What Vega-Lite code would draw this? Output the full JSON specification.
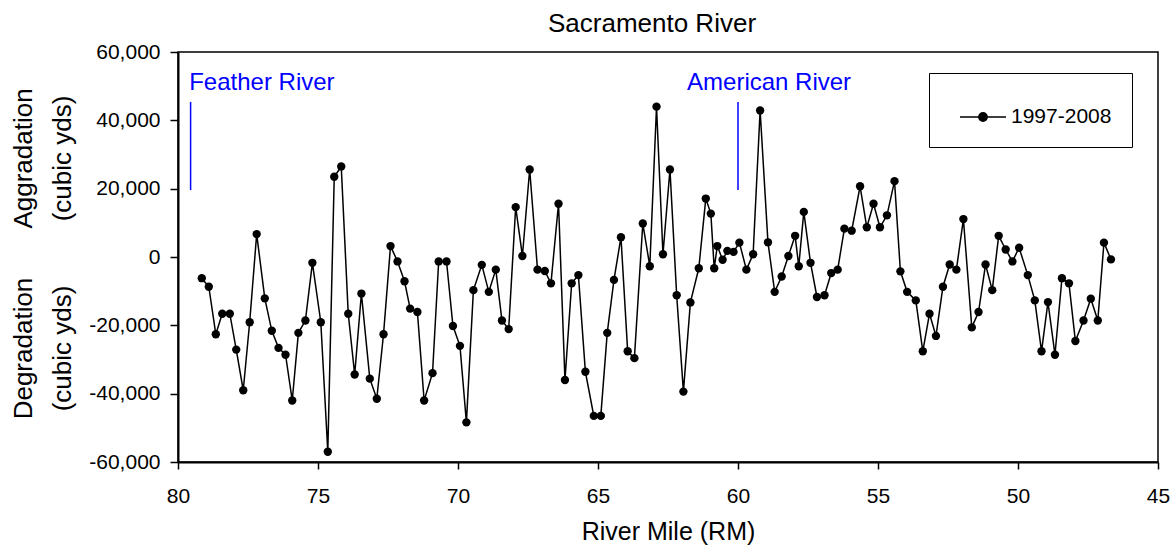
{
 "$schema": "https://vega.github.io/schema/vega-lite/v6.json",
 "width": 980,
 "height": 410,
 "autosize": {"type": "none"},
 "padding": {"left": 178, "top": 52, "right": 18, "bottom": 83},
 "background": "white",
 "title": {"text": "Sacramento River", "fontSize": 26, "font": "Liberation Sans", "fontWeight": "normal", "color": "#000", "dx": -16, "offset": -17, "baseline": "alphabetic"},
 "config": {
  "view": {"stroke": "#000", "strokeWidth": 1.5},
  "font": "Liberation Sans",
  "axis": {"grid": false, "domainColor": "#000", "domainWidth": 2, "tickColor": "#000", "tickWidth": 1.5, "labelColor": "#000", "titleColor": "#000", "labelFont": "Liberation Sans", "titleFont": "Liberation Sans", "titleFontWeight": "normal", "labelFlush": false, "labelOverlap": false, "labelBound": false}
 },
 "datasets": {
  "sed": [
   {"rm": 79.15, "vol": -6200}, {"rm": 78.90, "vol": -8700}, {"rm": 78.65, "vol": -22600}, {"rm": 78.42, "vol": -16600},
   {"rm": 78.15, "vol": -16600}, {"rm": 77.92, "vol": -27100}, {"rm": 77.67, "vol": -39000}, {"rm": 77.44, "vol": -19100},
   {"rm": 77.19, "vol": 6700}, {"rm": 76.90, "vol": -12100}, {"rm": 76.65, "vol": -21600}, {"rm": 76.41, "vol": -26600},
   {"rm": 76.16, "vol": -28600}, {"rm": 75.92, "vol": -42000}, {"rm": 75.70, "vol": -22200}, {"rm": 75.45, "vol": -18600},
   {"rm": 75.20, "vol": -1700}, {"rm": 74.90, "vol": -19100}, {"rm": 74.65, "vol": -57000}, {"rm": 74.42, "vol": 23500},
   {"rm": 74.17, "vol": 26500}, {"rm": 73.92, "vol": -16600}, {"rm": 73.69, "vol": -34400}, {"rm": 73.45, "vol": -10700},
   {"rm": 73.15, "vol": -35600}, {"rm": 72.90, "vol": -41500}, {"rm": 72.66, "vol": -22600}, {"rm": 72.41, "vol": 3200},
   {"rm": 72.16, "vol": -1300}, {"rm": 71.91, "vol": -7100}, {"rm": 71.71, "vol": -15100}, {"rm": 71.45, "vol": -16100},
   {"rm": 71.21, "vol": -42000}, {"rm": 70.91, "vol": -34000}, {"rm": 70.69, "vol": -1300}, {"rm": 70.41, "vol": -1300},
   {"rm": 70.18, "vol": -20200}, {"rm": 69.93, "vol": -26000}, {"rm": 69.70, "vol": -48400}, {"rm": 69.45, "vol": -9700},
   {"rm": 69.15, "vol": -2300}, {"rm": 68.90, "vol": -10200}, {"rm": 68.65, "vol": -3700}, {"rm": 68.43, "vol": -18600},
   {"rm": 68.19, "vol": -21100}, {"rm": 67.94, "vol": 14600}, {"rm": 67.70, "vol": 300}, {"rm": 67.44, "vol": 25600},
   {"rm": 67.16, "vol": -3700}, {"rm": 66.90, "vol": -4100}, {"rm": 66.68, "vol": -7700}, {"rm": 66.41, "vol": 15600},
   {"rm": 66.18, "vol": -36000}, {"rm": 65.94, "vol": -7700}, {"rm": 65.70, "vol": -5300}, {"rm": 65.45, "vol": -33600},
   {"rm": 65.15, "vol": -46500}, {"rm": 64.90, "vol": -46500}, {"rm": 64.67, "vol": -22200}, {"rm": 64.43, "vol": -6700},
   {"rm": 64.18, "vol": 5800}, {"rm": 63.94, "vol": -27600}, {"rm": 63.70, "vol": -29600}, {"rm": 63.40, "vol": 9800},
   {"rm": 63.15, "vol": -2700}, {"rm": 62.91, "vol": 44000}, {"rm": 62.68, "vol": 800}, {"rm": 62.43, "vol": 25600},
   {"rm": 62.19, "vol": -11200}, {"rm": 61.95, "vol": -39400}, {"rm": 61.70, "vol": -13300}, {"rm": 61.40, "vol": -3300},
   {"rm": 61.15, "vol": 17100}, {"rm": 60.97, "vol": 12700}, {"rm": 60.85, "vol": -3300}, {"rm": 60.74, "vol": 3200},
   {"rm": 60.55, "vol": -800}, {"rm": 60.38, "vol": 1800}, {"rm": 60.16, "vol": 1500}, {"rm": 59.95, "vol": 4200},
   {"rm": 59.70, "vol": -3700}, {"rm": 59.46, "vol": 800}, {"rm": 59.21, "vol": 42900}, {"rm": 58.93, "vol": 4300},
   {"rm": 58.69, "vol": -10200}, {"rm": 58.44, "vol": -5700}, {"rm": 58.20, "vol": 300}, {"rm": 57.96, "vol": 6200},
   {"rm": 57.83, "vol": -2700}, {"rm": 57.65, "vol": 13200}, {"rm": 57.41, "vol": -1700}, {"rm": 57.18, "vol": -11700},
   {"rm": 56.91, "vol": -11200}, {"rm": 56.67, "vol": -4700}, {"rm": 56.44, "vol": -3700}, {"rm": 56.20, "vol": 8300},
   {"rm": 55.94, "vol": 7700}, {"rm": 55.64, "vol": 20700}, {"rm": 55.40, "vol": 8700}, {"rm": 55.16, "vol": 15600},
   {"rm": 54.93, "vol": 8700}, {"rm": 54.68, "vol": 12200}, {"rm": 54.41, "vol": 22200}, {"rm": 54.20, "vol": -4200},
   {"rm": 53.96, "vol": -10200}, {"rm": 53.65, "vol": -12700}, {"rm": 53.40, "vol": -27600}, {"rm": 53.16, "vol": -16600},
   {"rm": 52.93, "vol": -23100}, {"rm": 52.68, "vol": -8700}, {"rm": 52.44, "vol": -2200}, {"rm": 52.20, "vol": -3700},
   {"rm": 51.95, "vol": 11100}, {"rm": 51.65, "vol": -20600}, {"rm": 51.41, "vol": -16100}, {"rm": 51.16, "vol": -2200},
   {"rm": 50.92, "vol": -9700}, {"rm": 50.69, "vol": 6200}, {"rm": 50.44, "vol": 2200}, {"rm": 50.20, "vol": -1300},
   {"rm": 49.96, "vol": 2700}, {"rm": 49.65, "vol": -5300}, {"rm": 49.40, "vol": -12700}, {"rm": 49.16, "vol": -27600},
   {"rm": 48.93, "vol": -13200}, {"rm": 48.68, "vol": -28600}, {"rm": 48.43, "vol": -6200}, {"rm": 48.18, "vol": -7700},
   {"rm": 47.95, "vol": -24600}, {"rm": 47.66, "vol": -18600}, {"rm": 47.40, "vol": -12200}, {"rm": 47.15, "vol": -18600},
   {"rm": 46.93, "vol": 4200}, {"rm": 46.68, "vol": -700}
  ],
  "ann": [
   {"label": "Feather River", "text_rm": 79.6, "text_vol": 48900, "line_rm": 79.55, "line_lo": 19600, "line_hi": 45400},
   {"label": "American River", "text_rm": 61.82, "text_vol": 48900, "line_rm": 60.0, "line_lo": 19600, "line_hi": 45400}
  ]
 },
 "resolve": {"axis": {"y": "independent"}},
 "layer": [
  {
   "data": {"name": "sed"},
   "mark": {"type": "line", "color": "#000", "strokeWidth": 1.5, "point": {"filled": true, "size": 70, "opacity": 1}},
   "encoding": {
    "x": {"field": "rm", "type": "quantitative",
     "scale": {"domain": [45, 80], "reverse": true, "nice": false, "zero": false},
     "axis": {"values": [80, 75, 70, 65, 60, 55, 50, 45], "format": "d", "tickSize": 7, "labelPadding": 16, "labelFontSize": 21,
      "title": "River Mile (RM)", "titleFontSize": 25, "titleX": 490, "titleY": 77, "titleAlign": "center", "titleBaseline": "alphabetic"}},
    "y": {"field": "vol", "type": "quantitative",
     "scale": {"domain": [-60000, 60000], "nice": false, "zero": false},
     "axis": {"orient": "left", "values": [-60000, -40000, -20000, 0, 20000, 40000, 60000],
      "labelExpr": "(datum.value < 0 ? '-' : '') + format(abs(datum.value), ',')",
      "tickSize": 8, "labelPadding": 10, "labelFontSize": 21,
      "title": ["Aggradation", "(cubic yds)"], "titleFontSize": 26, "titleAngle": -90, "titleX": -155, "titleY": 106,
      "titleAlign": "center", "titleBaseline": "middle", "titleLineHeight": 39}},
    "color": {"datum": "1997-2008", "type": "nominal", "scale": {"range": ["#000"]},
     "legend": {"title": null, "orient": "none", "legendX": 751, "legendY": 21, "strokeColor": "#000", "fillColor": "white",
      "padding": 20, "labelFontSize": 21, "labelColor": "#000", "labelFont": "Liberation Sans",
      "symbolType": "M-1,0H1M-0.18,0A0.18,0.18,0,1,1,0.18,0A0.18,0.18,0,1,1,-0.18,0Z",
      "symbolSize": 2116, "symbolStrokeWidth": 1.5, "symbolFillColor": "#000", "symbolStrokeColor": "#000",
      "symbolOffset": 10, "labelOffset": 4}}
   }
  },
  {
   "mark": {"type": "rule", "color": "#000", "strokeWidth": 1.3},
   "encoding": {
    "y": {"datum": 0, "type": "quantitative",
     "axis": {"orient": "left", "labels": false, "ticks": false, "domain": false,
      "title": ["Degradation", "(cubic yds)"], "titleFontSize": 26, "titleAngle": -90, "titleX": -155, "titleY": 296,
      "titleAlign": "center", "titleBaseline": "middle", "titleLineHeight": 39}}
   }
  },
  {
   "data": {"name": "ann"},
   "mark": {"type": "rule", "color": "#0000FF", "strokeWidth": 1.5},
   "encoding": {
    "x": {"field": "line_rm", "type": "quantitative"},
    "y": {"field": "line_lo", "type": "quantitative", "axis": null},
    "y2": {"field": "line_hi"}
   }
  },
  {
   "data": {"name": "ann"},
   "mark": {"type": "text", "color": "#0000FF", "fontSize": 24, "font": "Liberation Sans", "align": "left", "baseline": "alphabetic"},
   "encoding": {
    "x": {"field": "text_rm", "type": "quantitative"},
    "y": {"field": "text_vol", "type": "quantitative", "axis": null},
    "text": {"field": "label"}
   }
  }
 ]
}
